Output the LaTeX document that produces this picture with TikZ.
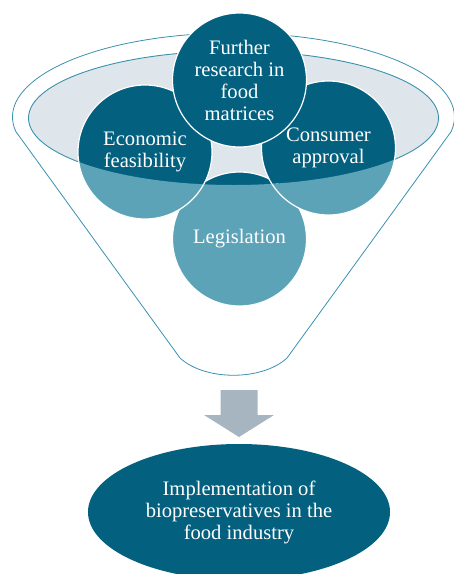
\documentclass[tikz,border=0pt]{standalone}
\usepackage{fontspec}
\setmainfont{Liberation Serif}
\usetikzlibrary{shapes.geometric}
\definecolor{tealdark}{HTML}{03607F}
\definecolor{teallight}{HTML}{5CA3B8}
\definecolor{surface}{HTML}{DEE5EB}
\definecolor{rimline}{HTML}{3A91AE}
\definecolor{arrowgray}{HTML}{A7B5C0}
\tikzset{
  bubble/.style={circle, minimum size=134pt, inner sep=0pt, fill=tealdark, draw=white, line width=1.2pt},
  lowbubble/.style={fill=teallight, draw=white, line width=1.2pt},
  caption/.style={text=white, align=center, inner sep=0pt, font=\fontsize{20.6}{22}\selectfont},
  rim/.style={draw=rimline, line width=0.9pt},
}
\begin{document}
\begin{tikzpicture}[x=1pt, y=-1pt]
  \useasboundingbox (0,0) rectangle (454,574);
  \clip (0,0) rectangle (454,574);

  % funnel outline: top rim, sloping walls and rounded spout
  \draw[rim, line width=0.8pt, line join=round]
    (233.5,117) ++(170:221 and 84) coordinate (fl)
    arc[start angle=170, end angle=370, x radius=221, y radius=84] coordinate (fr)
    -- (287,358) coordinate (sr)
    .. controls (262,381) and (205,381) .. (180,358) coordinate (sl)
    -- (fl);

  % liquid surface inside the funnel
  \node[ellipse, minimum width=410pt, minimum height=134pt, inner sep=0pt,
        fill=surface, rim] (surf) at (233.5,118) {};

  % the four topic circles
  \node[bubble] (leg)  at (239.5,239) {};
  \node[bubble] (eco)  at (145,152) {};
  \node[bubble] (con)  at (328.5,148) {};
  \node[bubble] (res)  at (239.5,80) {};

  % parts of the circles below the surface are lighter
  \begin{scope}
    \clip (28.5,118) arc[start angle=180, end angle=0, x radius=205, y radius=67]
      -- (454,118) -- (454,574) -- (0,574) -- (0,118) -- cycle;
    \path[lowbubble] (leg.center) circle[radius=67];
    \path[lowbubble] (eco.center) circle[radius=67];
    \path[lowbubble] (con.center) circle[radius=67];
  \end{scope}

  % circle labels
  \node[caption] (tres) at (res.center) {Further\\research in\\food\\matrices};
  \node[caption] (teco) at (eco.center) {Economic\\feasibility};
  \node[caption] (tcon) at (con.center) {Consumer\\approval};
  \node[caption] (tleg) at (leg.center) {Legislation};

  % downward block arrow
  \fill[arrowgray] (220.5,390) -- (257.5,390) -- (257.5,415) -- (274,415)
    -- (239,437) -- (204,415) -- (220.5,415) -- cycle;

  % outcome
  \node[ellipse, minimum width=302pt, minimum height=136pt, inner sep=0pt,
        fill=tealdark, caption] (impl) at (239,512)
        {Implementation of\\biopreservatives in the\\food industry};
\end{tikzpicture}
\end{document}
